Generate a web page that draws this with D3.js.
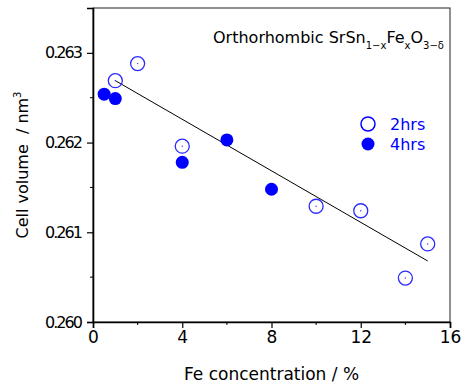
<!DOCTYPE html>
<html>
<head>
<meta charset="utf-8">
<script src="https://cdn.jsdelivr.net/npm/d3@7"></script>
<style>
  body { margin: 0; background: #fff; }
  text { font-family: "DejaVu Sans", sans-serif; white-space: pre; }
</style>
</head>
<body>
<script>
var width  = 465;
var height = 387;

// 2 hrs (open circles)
var x2hrs = [1, 2, 4, 10, 12, 14, 15];
var y2hrs = [0.26269, 0.26288, 0.26196, 0.26129, 0.26124, 0.26049, 0.26087];
// 4 hrs (filled circles)
var x4hrs = [0.5, 1, 4, 6, 8];
var y4hrs = [0.26254, 0.26249, 0.26178, 0.26203, 0.26148];
// linear fit
var fitX = [1, 15];
var fitY = [0.26269, 0.26068];

var xTicks = [0, 4, 8, 12, 16];
var xMinor = [2, 6, 10, 14];
var yTicks = [0.260, 0.261, 0.262, 0.263];
var yMinor = [0.2605, 0.2615, 0.2625];

var margin = {left: 93, right: 15, top: 8, bottom: 65};

var x = d3.scaleLinear().domain([0, 16]).range([margin.left, width - margin.right]);
var y = d3.scaleLinear().domain([0.260, 0.2635]).range([height - margin.bottom, margin.top]);

var svg = d3.select('body').append('svg')
    .attr('width', width)
    .attr('height', height);

// frame
svg.append('rect')
  .attr('x', x(0)).attr('y', y(0.2635))
  .attr('width', x(16) - x(0)).attr('height', y(0.260) - y(0.2635))
  .attr('fill', 'none')
  .attr('stroke', '#222')
  .attr('stroke-width', 1);

// axes
var xAxis = svg.append('g')
  .attr('transform', 'translate(0,' + y(0.260) + ')')
  .call(d3.axisBottom(x).tickValues(xTicks).tickFormat(d3.format('d')).tickSize(6).tickPadding(3));
xAxis.append('g').selectAll('line').data(xMinor).enter().append('line')
  .attr('x1', d => x(d)).attr('x2', d => x(d))
  .attr('y1', 0).attr('y2', 3)
  .attr('stroke', '#000');

var yAxis = svg.append('g')
  .attr('transform', 'translate(' + x(0) + ',0)')
  .call(d3.axisLeft(y).tickValues(yTicks).tickFormat(d3.format('.3f')).tickSize(6).tickPadding(4));
yAxis.append('g').selectAll('line').data(yMinor).enter().append('line')
  .attr('y1', d => y(d)).attr('y2', d => y(d))
  .attr('x1', 0).attr('x2', -3)
  .attr('stroke', '#000');

svg.selectAll('.domain').attr('stroke', '#000').attr('stroke-width', 1.6);
svg.selectAll('.tick line').attr('stroke', '#000').attr('stroke-width', 1.2);
svg.selectAll('.tick text').attr('fill', '#000')
  .attr('font-family', '"Liberation Sans", Arial, sans-serif');
xAxis.selectAll('.tick text').attr('font-size', 17);
yAxis.selectAll('.tick text').attr('font-size', 16).attr('textLength', 38);

// axis titles
svg.append('text')
  .attr('x', (x(0) + x(16)) / 2).attr('y', 380)
  .attr('text-anchor', 'middle')
  .attr('font-size', 17)
  .text('Fe concentration / %');

var yl = svg.append('text')
  .attr('transform', 'translate(28,' + ((y(0.260) + y(0.2635)) / 2) + ') rotate(-90)')
  .attr('text-anchor', 'middle')
  .attr('font-size', 16);
yl.append('tspan').text('Cell volume  / nm');
yl.append('tspan').attr('dy', -7).attr('font-size', 10).text('3');

// title
var t = svg.append('text')
  .attr('x', 213).attr('y', 43)
  .attr('font-size', 16);
t.append('tspan').text('Orthorhombic SrSn');
t.append('tspan').attr('dy', 6).attr('font-size', 10).text('1\u2212x');
t.append('tspan').attr('dy', -6).text('Fe');
t.append('tspan').attr('dy', 6).attr('font-size', 10).text('x');
t.append('tspan').attr('dy', -6).text('O');
t.append('tspan').attr('dy', 6).attr('font-size', 10).text('3\u2212\u03b4');

// fit line
svg.append('line')
  .attr('x1', x(fitX[0])).attr('y1', y(fitY[0]))
  .attr('x2', x(fitX[1])).attr('y2', y(fitY[1]))
  .attr('stroke', '#000')
  .attr('stroke-width', 1);

// points
var open = x2hrs.map(function(d, i) { return [d, y2hrs[i]]; });
var filled = x4hrs.map(function(d, i) { return [d, y4hrs[i]]; });

svg.append('g').selectAll('circle').data(filled).enter().append('circle')
  .attr('cx', d => x(d[0])).attr('cy', d => y(d[1]))
  .attr('r', 6.5)
  .attr('fill', '#0000ff');

var og = svg.append('g').selectAll('g').data(open).enter().append('g');
og.append('circle')
  .attr('cx', d => x(d[0])).attr('cy', d => y(d[1]))
  .attr('r', 7)
  .attr('fill', 'none')
  .attr('stroke', '#2a2aff')
  .attr('stroke-width', 1.3);
og.append('circle')
  .attr('cx', d => x(d[0])).attr('cy', d => y(d[1]))
  .attr('r', 0.7)
  .attr('fill', '#2a2aff');

// legend
var lg = svg.append('g');
lg.append('circle').attr('cx', 368).attr('cy', 124).attr('r', 7)
  .attr('fill', 'none').attr('stroke', '#0000ff').attr('stroke-width', 1.5);
lg.append('circle').attr('cx', 368).attr('cy', 144).attr('r', 6.5)
  .attr('fill', '#0000ff');
lg.append('text').attr('x', 390).attr('y', 130).attr('font-size', 16)
  .attr('fill', '#0000ff').attr('font-family', '"Liberation Sans", Arial, sans-serif').text('2hrs');
lg.append('text').attr('x', 390).attr('y', 150).attr('font-size', 16)
  .attr('fill', '#0000ff').attr('font-family', '"Liberation Sans", Arial, sans-serif').text('4hrs');
</script>
</body>
</html>
